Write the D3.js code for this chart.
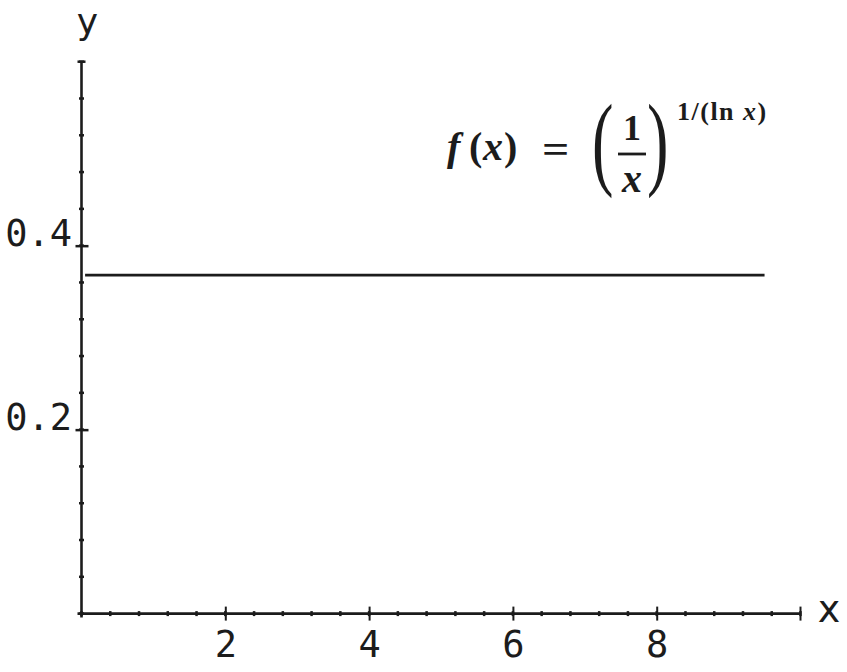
<!DOCTYPE html>
<html><head><meta charset="utf-8">
<script src="https://cdn.jsdelivr.net/npm/d3@7"></script>
<style>
html,body{margin:0;padding:0;background:#fff;}
svg{display:block;}
</style></head>
<body>
<script>
// data
const xValues = [0.05, 1, 2, 3, 4, 5, 6, 7, 8, 9, 9.5];
const yValues = [0.368, 0.368, 0.368, 0.368, 0.368, 0.368, 0.368, 0.368, 0.368, 0.368, 0.368];
const xMajorTicks = [2, 4, 6, 8];
const xTickLabels = ["2", "4", "6", "8"];
const yMajorTicks = [0.2, 0.4];
const yTickLabels = ["0.2", "0.4"];
const xMinorTicks = d3.range(0, 10.01, 0.4).map(v => +v.toFixed(2));
const yMinorTicks = d3.range(0, 0.601, 0.04).map(v => +v.toFixed(2));

const W = 847, H = 672;
const ink = "#1c1c1c";
const svg = d3.select("body").append("svg").attr("width", W).attr("height", H);

const x = d3.scaleLinear().domain([0, 10]).range([81.5, 800.5]);
const y = d3.scaleLinear().domain([0, 0.6]).range([613.6, 61.7]);

// axis lines
svg.append("line").attr("x1", x(0) - 4).attr("x2", x(10)).attr("y1", y(0)).attr("y2", y(0))
  .attr("stroke", ink).attr("stroke-width", 2.6);
svg.append("line").attr("x1", x(0)).attr("x2", x(0)).attr("y1", y(0) + 4).attr("y2", y(0.6))
  .attr("stroke", ink).attr("stroke-width", 2.6);

// minor ticks
svg.append("g").selectAll("line").data(xMinorTicks).join("line")
  .attr("x1", d => x(d)).attr("x2", d => x(d)).attr("y1", y(0) - 2.5).attr("y2", y(0) + 2.5)
  .attr("stroke", ink).attr("stroke-width", 2.5);
svg.append("g").selectAll("line").data(yMinorTicks).join("line")
  .attr("x1", x(0) - 2.5).attr("x2", x(0) + 2.5).attr("y1", d => y(d)).attr("y2", d => y(d))
  .attr("stroke", ink).attr("stroke-width", 2.5);

// end ticks
svg.append("line").attr("x1", x(10)).attr("x2", x(10)).attr("y1", y(0) - 7).attr("y2", y(0) + 7)
  .attr("stroke", ink).attr("stroke-width", 2);
svg.append("line").attr("x1", x(0) - 4).attr("x2", x(0) + 4).attr("y1", y(0.6)).attr("y2", y(0.6))
  .attr("stroke", ink).attr("stroke-width", 2.5);

// x axis major ticks + labels
const xAxis = d3.axisBottom(x).tickValues(xMajorTicks)
  .tickFormat((d, i) => xTickLabels[i]).tickSizeOuter(0).tickSizeInner(7).tickPadding(10);
const gx = svg.append("g").attr("transform", `translate(0,${y(0)})`).call(xAxis);
gx.select(".domain").remove();
gx.selectAll(".tick line").attr("y1", -7).attr("y2", 7).attr("stroke", ink).attr("stroke-width", 2);
gx.selectAll(".tick text").attr("fill", ink)
  .style("font-family", "'DejaVu Sans Mono', monospace").style("font-size", "37px");

// y axis major ticks + labels
const yAxis = d3.axisLeft(y).tickValues(yMajorTicks)
  .tickFormat((d, i) => yTickLabels[i]).tickSizeOuter(0).tickSizeInner(7).tickPadding(2.5);
const gy = svg.append("g").attr("transform", `translate(${x(0)},0)`).call(yAxis);
gy.select(".domain").remove();
gy.selectAll(".tick line").attr("x1", -6).attr("x2", 7).attr("stroke", ink).attr("stroke-width", 2.5);
gy.selectAll(".tick text").attr("fill", ink).attr("dy", "0em")
  .style("font-family", "'DejaVu Sans Mono', monospace").style("font-size", "37px");

// axis titles
svg.append("text").attr("x", x(0) + 6).attr("y", 34).attr("text-anchor", "middle")
  .style("font-family", "'DejaVu Sans', sans-serif").style("font-size", "36px").attr("fill", ink).text("y");
svg.append("text").attr("x", 829).attr("y", 622).attr("text-anchor", "middle")
  .style("font-family", "'DejaVu Sans', sans-serif").style("font-size", "38px").attr("fill", ink).text("x");

// data line
const line = d3.line().x((d, i) => x(xValues[i])).y(d => y(d));
svg.append("path").datum(yValues).attr("d", line).attr("fill", "none")
  .attr("stroke", ink).attr("stroke-width", 2.6);

// formula
const serif = "'Liberation Serif', 'Times New Roman', serif";
const fg = svg.append("g").attr("fill", ink).style("font-family", serif).style("font-weight", "bold");
fg.append("text").attr("x", 447).attr("y", 160).style("font-size", "40px").style("font-style", "italic").text("f");
fg.append("text").attr("x", 469).attr("y", 160).style("font-size", "40px").text("(");
fg.append("text").attr("x", 483).attr("y", 160).style("font-size", "40px").style("font-style", "italic").text("x");
fg.append("text").attr("x", 504).attr("y", 160).style("font-size", "40px").text(")");
fg.append("text").attr("transform", "translate(542,163) scale(1.2,1)").style("font-size", "40px").text("=");
fg.append("text").attr("transform", "translate(592,176) scale(0.62,1)").style("font-size", "104px").style("font-weight", "normal").text("(");
fg.append("text").attr("transform", "translate(647,176) scale(0.62,1)").style("font-size", "104px").style("font-weight", "normal").text(")");
fg.append("text").attr("x", 632).attr("y", 140).attr("text-anchor", "middle").style("font-size", "36px").text("1");
svg.append("line").attr("x1", 618).attr("x2", 646).attr("y1", 154).attr("y2", 154).attr("stroke", ink).attr("stroke-width", 2.8);
fg.append("text").attr("x", 632).attr("y", 192).attr("text-anchor", "middle").style("font-size", "40px").style("font-style", "italic").text("x");
fg.append("text").attr("x", 677).attr("y", 120).style("font-size", "26px").style("letter-spacing", "1.5px").text("1/(ln ")
  .append("tspan").style("font-style", "italic").text("x").append("tspan").style("font-style", "normal").text(")");
</script>
</body></html>
